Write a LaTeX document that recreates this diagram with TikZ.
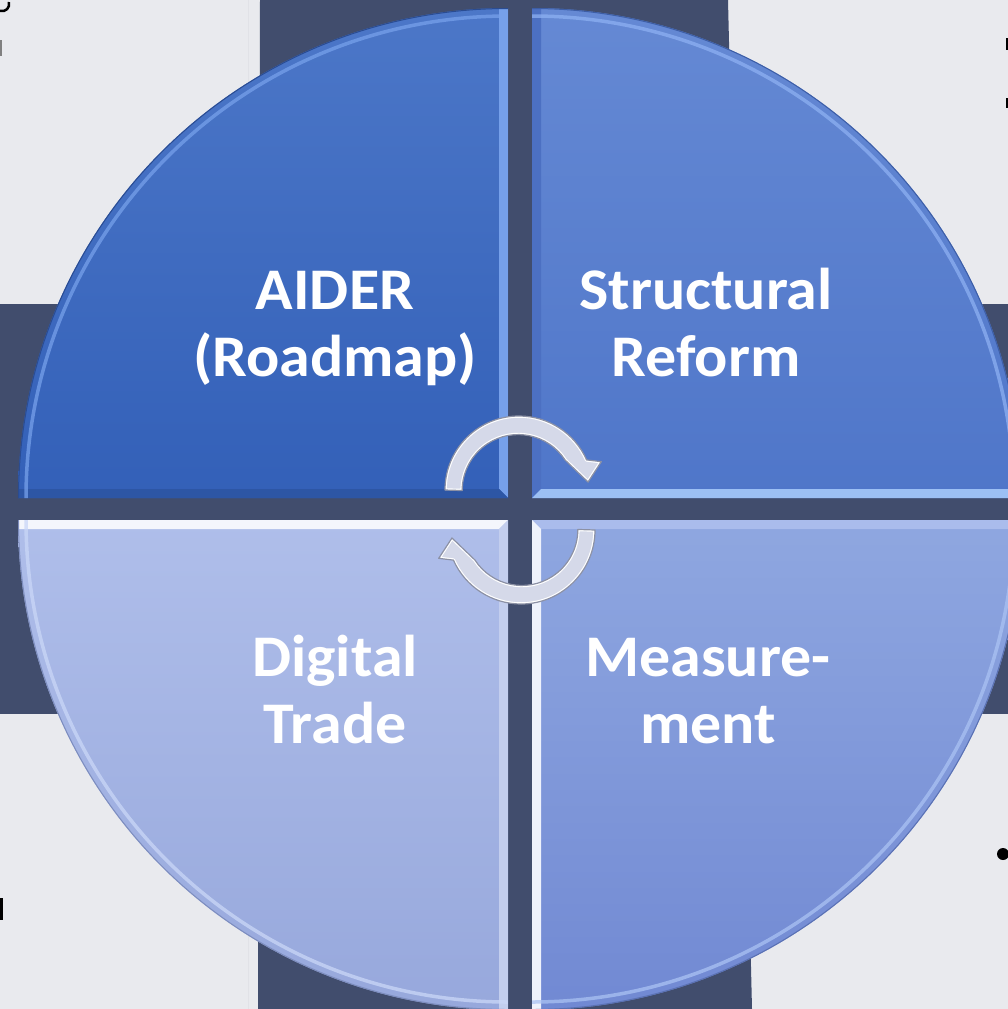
\documentclass[tikz,border=0pt]{standalone}
\usepackage{fontspec}
\setmainfont{Carlito}
\newfontfamily\labelfont{Carlito}[FakeStretch=1.05]
\usetikzlibrary{calc}
\definecolor{bg}{HTML}{E9EAEE}
\definecolor{navy}{HTML}{414D6D}
\definecolor{tlT}{HTML}{4C77C8}\definecolor{tlB}{HTML}{3360B8}
\definecolor{trT}{HTML}{6589D4}\definecolor{trB}{HTML}{4F76C9}
\definecolor{blT}{HTML}{AFBEEA}\definecolor{blB}{HTML}{97A8DC}
\definecolor{brT}{HTML}{8FA7E0}\definecolor{brB}{HTML}{7189D3}
\definecolor{tlL}{HTML}{76A0EA}\definecolor{tlD}{HTML}{2A4C92}
\definecolor{trL}{HTML}{8DB0F2}\definecolor{trD}{HTML}{3D5EA6}
\definecolor{blL}{HTML}{CAD7F7}\definecolor{blD}{HTML}{7D8DBE}
\definecolor{brL}{HTML}{AAC2F3}\definecolor{brD}{HTML}{5A71B3}
\definecolor{tlS}{HTML}{2D56A5}\definecolor{trS}{HTML}{4C70C2}\definecolor{trS2}{HTML}{9CC0F4}
\definecolor{blS}{HTML}{F4F6FC}\definecolor{blS2}{HTML}{C3CEEE}
\definecolor{brS}{HTML}{AABCEC}\definecolor{brS2}{HTML}{EEF2FC}
\definecolor{arrowfill}{HTML}{D5D9E9}
\definecolor{arrowline}{HTML}{8C91A5}
\definecolor{faint}{HTML}{E1E2E7}
\tikzset{
  label/.style={font=\labelfont\bfseries\fontsize{59}{67}\selectfont, text=white, align=center, inner sep=0pt, anchor=north},
  rimlight/.style={line width=3.5pt, opacity=0.75},
  rimdark/.style={line width=2pt},
  cyc/.style={fill=arrowfill},
  cycline/.style={draw=arrowline, line width=1.2pt, line join=round},
  cychl/.style={draw=white, line width=3.5pt, line join=round},
}
\begin{document}
\begin{tikzpicture}[x=1pt,y=1pt]
\useasboundingbox (0,0) rectangle (1008,-1009);
\clip (0,0) rectangle (1008,-1009);
% background
\fill[bg] (0,0) rectangle (1008,-1009);
\draw[faint, line width=1pt] (248,0) -- (248,-1009);
\fill[navy] (260,0) -- (728,0) -- (752,-1009) -- (258,-1009) -- cycle;
\fill[navy] (0,-304) rectangle (1008,-714);
% edge fragments of surrounding text
\draw[black, line width=2.5pt] (0,-11) .. controls (6,-12) and (10,-8) .. (9,-2);
\draw[gray, line width=1.5pt] (0.8,-40) -- (0.8,-56);
\draw[black, line width=3pt] (1007.5,-38) -- (1007.5,-50);
\draw[black, line width=3pt] (1007.5,-98) -- (1007.5,-108);
\draw[black, line width=3pt] (1.2,-898) -- (1.2,-920);
\fill[black] (1003,-854) circle (6);
% ---------- quadrants ----------
% TL
\shade[top color=tlT, bottom color=tlB] (508,-498) -- (18,-498) arc[start angle=180,end angle=90,radius=490] -- cycle;
\begin{scope}
\clip (508,-498) -- (18,-498) arc[start angle=180,end angle=90,radius=490] -- cycle;
\fill[tlL] (508,-498) -- (508,0) -- (499,0) -- (499,-489) -- cycle;
\fill[tlS] (508,-498) -- (0,-498) -- (0,-489) -- (499,-489) -- cycle;
\draw[tlL, rimlight] (26,-498) arc[start angle=180,end angle=90,radius=482];
\draw[tlD, rimdark] (18,-498) arc[start angle=180,end angle=90,radius=490];
\end{scope}
% TR
\shade[top color=trT, bottom color=trB] (532,-498) -- (532,-8) arc[start angle=90,end angle=0,radius=490] -- cycle;
\begin{scope}
\clip (532,-498) -- (532,-8) arc[start angle=90,end angle=0,radius=490] -- cycle;
\fill[trS] (532,-498) -- (532,0) -- (541,0) -- (541,-489) -- cycle;
\fill[trS2] (532,-498) -- (1030,-498) -- (1030,-489) -- (541,-489) -- cycle;
\draw[trL, rimlight] (532,-16) arc[start angle=90,end angle=0,radius=482];
\draw[trD, rimdark] (532,-8) arc[start angle=90,end angle=0,radius=490];
\end{scope}
% BL
\shade[top color=blT, bottom color=blB] (508,-520) -- (508,-1010) arc[start angle=270,end angle=180,radius=490] -- cycle;
\begin{scope}
\clip (508,-520) -- (508,-1010) arc[start angle=270,end angle=180,radius=490] -- cycle;
\fill[blS] (508,-520) -- (0,-520) -- (0,-529) -- (499,-529) -- cycle;
\fill[blS2] (508,-520) -- (508,-1030) -- (499,-1030) -- (499,-529) -- cycle;
\draw[blL, rimlight] (508,-1002) arc[start angle=270,end angle=180,radius=482];
\draw[blD, rimdark] (508,-1010) arc[start angle=270,end angle=180,radius=490];
\end{scope}
% BR
\shade[top color=brT, bottom color=brB] (532,-520) -- (1022,-520) arc[start angle=0,end angle=-90,radius=490] -- cycle;
\begin{scope}
\clip (532,-520) -- (1022,-520) arc[start angle=0,end angle=-90,radius=490] -- cycle;
\fill[brS] (532,-520) -- (1030,-520) -- (1030,-529) -- (541,-529) -- cycle;
\fill[brS2] (532,-520) -- (532,-1030) -- (541,-1030) -- (541,-529) -- cycle;
\draw[brL, rimlight] (1014,-520) arc[start angle=0,end angle=-90,radius=482];
\draw[brD, rimdark] (1022,-520) arc[start angle=0,end angle=-90,radius=490];
\end{scope}
% ---------- cycle arrows ----------
% top arrow (clockwise, head at right)
\begin{scope}[shift={(519,-490)}]
  \fill[cyc] (180:74) arc[start angle=180,end angle=24,radius=74] -- (19:87) -- (6.6:69.5) -- (33:55) arc[start angle=33,end angle=180,radius=56] -- cycle;
  \begin{scope}
    \clip (180:74) arc[start angle=180,end angle=24,radius=74] -- (19:87) -- (6.6:69.5) -- (33:55) arc[start angle=33,end angle=180,radius=56] -- cycle;
    \draw[cychl] (180:74) arc[start angle=180,end angle=24,radius=74] -- (19:87) -- (6.6:69.5) -- (33:55) arc[start angle=33,end angle=180,radius=56] -- cycle;
  \end{scope}
  \draw[cycline] (180:74) arc[start angle=180,end angle=24,radius=74] -- (19:87) -- (6.6:69.5) -- (33:55) arc[start angle=33,end angle=180,radius=56] -- cycle;
\end{scope}
% bottom arrow (clockwise, head at left)
\begin{scope}[shift={(521,-530)}, rotate=180]
  \fill[cyc] (180:74) arc[start angle=180,end angle=24,radius=74] -- (19:87) -- (6.6:69.5) -- (33:55) arc[start angle=33,end angle=180,radius=56] -- cycle;
  \begin{scope}
    \clip (180:74) arc[start angle=180,end angle=24,radius=74] -- (19:87) -- (6.6:69.5) -- (33:55) arc[start angle=33,end angle=180,radius=56] -- cycle;
    \draw[cychl] (180:74) arc[start angle=180,end angle=24,radius=74] -- (19:87) -- (6.6:69.5) -- (33:55) arc[start angle=33,end angle=180,radius=56] -- cycle;
  \end{scope}
  \draw[cycline] (180:74) arc[start angle=180,end angle=24,radius=74] -- (19:87) -- (6.6:69.5) -- (33:55) arc[start angle=33,end angle=180,radius=56] -- cycle;
\end{scope}
% ---------- labels ----------
\node[label] (aider) at (335,-262) {\strut AIDER\\(Roadmap)};
\node[label] (reform) at (706,-262) {\strut Structural\\Reform};
\node[label] (digital) at (335,-629) {\strut Digital\\Trade};
\node[label] (measure) at (708,-629) {\strut Measure-\\ment};
\end{tikzpicture}
\end{document}
